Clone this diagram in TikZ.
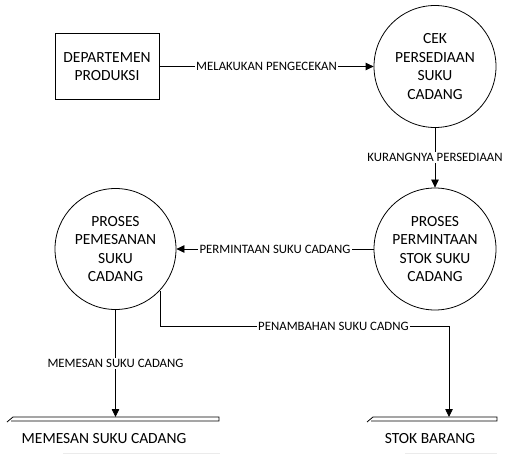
\documentclass[tikz,border=0pt]{standalone}
\usepackage{fontspec}
\setmainfont{Carlito}
\usetikzlibrary{arrows.meta}
\begin{document}
\begin{tikzpicture}[x=1pt,y=-1pt,
  every node/.style={font=\fontsize{15.5}{18.5}\selectfont, align=center},
  proc/.style={draw, circle, line width=0.8pt, minimum size=122pt, inner sep=0pt},
  entity/.style={draw, line width=0.8pt, minimum width=104pt, minimum height=66pt, inner sep=0pt},
  flow/.style={line width=0.8pt, -{Triangle[length=8pt,width=7.5pt]}},
  lbl/.style={fill=white, inner sep=1.5pt, font=\fontsize{12.8}{14}\selectfont},
  store/.style={line width=0.8pt},
  faint/.style={draw=black!8, line width=0.8pt},
]
\useasboundingbox (0,0) rectangle (508,454);

% external entity and processes
\node[entity] (dep) at (107,66.5) {DEPARTEMEN\\PRODUKSI};
\node[proc] (cek) at (435,66.5) {CEK\\PERSEDIAAN\\SUKU\\CADANG};
\node[proc] (perm) at (435,249) {PROSES\\PERMINTAAN\\STOK SUKU\\CADANG};
\node[proc, minimum size=121pt] (pem) at (115.5,249) {PROSES\\PEMESANAN\\SUKU\\CADANG};

% data stores
\draw[store] (7,422) -- (13,417) -- (219,417) -- (219,421) -- (11,421);
\coordinate (ds1) at (115.5,417);
\node[anchor=base] (ds1txt) at (104,443) {MEMESAN SUKU CADANG};
\draw[faint] (63,453) -- (220,453);

\draw[store] (367,422) -- (373,417) -- (497,417) -- (497,421) -- (371,421);
\coordinate (ds2) at (449,417);
\node[anchor=base] (ds2txt) at (430,443) {STOK BARANG};
\draw[faint] (405,453) -- (497,453);

\coordinate (turn) at (449,326);

% data flows
\draw[flow] (dep.east) -- node[lbl]{MELAKUKAN PENGECEKAN} (cek.west);
\draw[flow] (cek.south) -- node[lbl]{KURANGNYA PERSEDIAAN} (perm.north);
\draw[flow] (perm.west) -- node[lbl]{PERMINTAAN SUKU CADANG} (pem.east);
\draw[flow] (pem.south) -- node[lbl]{MEMESAN SUKU CADANG} (ds1);
\draw[flow] (pem.-43) |- node[lbl,pos=0.8]{PENAMBAHAN SUKU CADNG} (turn) -- (ds2);
\end{tikzpicture}
\end{document}
